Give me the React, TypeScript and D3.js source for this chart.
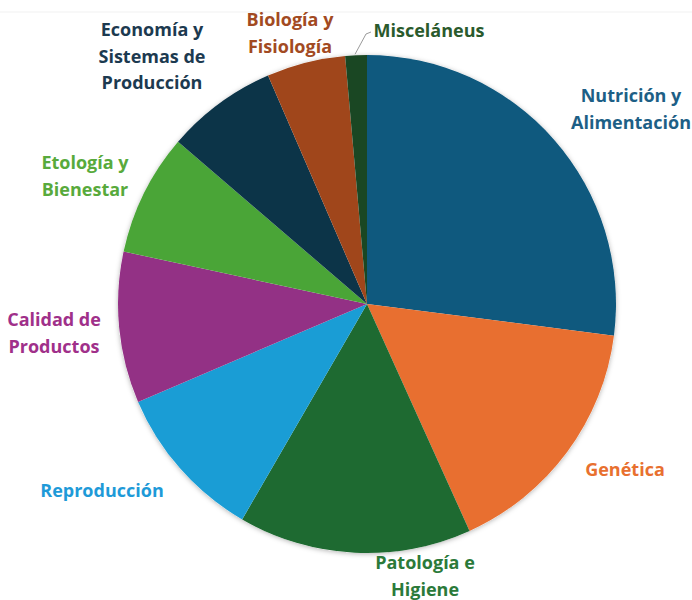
import { useEffect, useRef } from 'react';
import * as d3 from 'd3';

// categorías en orden horario desde las 12
const categories = [
  'Nutrición y Alimentación',
  'Genética',
  'Patología e Higiene',
  'Reproducción',
  'Calidad de Productos',
  'Etología y Bienestar',
  'Economía y Sistemas de Producción',
  'Biología y Fisiología',
  'Misceláneus',
];
const shares = [27.0, 16.2, 15.1, 10.2, 9.8, 7.9, 7.2, 5.1, 1.4];

const labelLines = [
  ['Nutrición y', 'Alimentación'],
  ['Genética'],
  ['Patología e', 'Higiene'],
  ['Reproducción'],
  ['Calidad de', 'Productos'],
  ['Etología y', 'Bienestar'],
  ['Economía y', 'Sistemas de', 'Producción'],
  ['Biología y', 'Fisiología'],
  ['Misceláneus'],
];

const sliceColors = ['#0f597e', '#e86f30', '#1e6a31', '#1a9dd5', '#933185', '#4aa537', '#0c3448', '#a0461b', '#1a4723'];
const textColors = ['#1d5f86', '#e8702f', '#2b7a3a', '#1e9ad8', '#a0308a', '#58aa3c', '#1c3a50', '#a24a22', '#2a5a2c'];

// posición del centro del primer renglón de cada etiqueta
const labelAnchors: [number, number][] = [
  [631, 96], [625, 470], [425, 563], [102, 491], [54, 320],
  [85, 163], [152, 30], [290, 20], [429, 31],
];

export default function App() {
  const svgRef = useRef<SVGSVGElement>(null);
  const width = 692;
  const height = 600;

  useEffect(() => {
    const svg = d3.select(svgRef.current);
    svg.selectAll('*').remove();

    const cx = 367, cy = 304, r = 249;

    const defs = svg.append('defs');
    const f = defs.append('filter').attr('id', 'shadow').attr('x', '-10%').attr('y', '-10%').attr('width', '120%').attr('height', '120%');
    f.append('feDropShadow').attr('dx', 0).attr('dy', 1).attr('stdDeviation', 2.5).attr('flood-color', '#000').attr('flood-opacity', 0.3);

    svg.append('line')
      .attr('x1', 0).attr('x2', width).attr('y1', 12).attr('y2', 12)
      .attr('stroke', '#f1f1f1').attr('stroke-width', 1);

    const pie = d3.pie<number>().sort(null).value(d => d);
    const arcs = pie(shares);
    const arc = d3.arc<d3.PieArcDatum<number>>().innerRadius(0).outerRadius(r);

    const g = svg.append('g').attr('transform', `translate(${cx},${cy})`);
    g.append('circle').attr('r', r).attr('fill', '#fff').attr('filter', 'url(#shadow)');
    g.selectAll('path')
      .data(arcs)
      .enter()
      .append('path')
      .attr('d', arc)
      .attr('fill', (d, i) => sliceColors[i]);

    // línea guía de Misceláneus
    const misc = arcs[8];
    const mid = (misc.startAngle + misc.endAngle) / 2;
    const p0: [number, number] = [cx + Math.sin(mid) * r, cy - Math.cos(mid) * r];
    svg.append('path')
      .attr('d', d3.line()([[p0[0] - 1, p0[1] - 1], [366, 34], [371, 32]]))
      .attr('fill', 'none')
      .attr('stroke', '#9a9a9a')
      .attr('stroke-width', 1);

    const lg = svg.append('g')
      .attr('font-family', '"Open Sans", sans-serif')
      .attr('font-weight', 700)
      .attr('font-size', 18);

    categories.forEach((c, i) => {
      const [x, y] = labelAnchors[i];
      const t = lg.append('text')
        .attr('text-anchor', 'middle')
        .attr('fill', textColors[i])
        .attr('aria-label', c);
      labelLines[i].forEach((line, k) => {
        t.append('tspan')
          .attr('x', x)
          .attr('y', y + k * 26.5)
          .attr('dy', '0.35em')
          .text(line);
      });
    });
  }, []);

  return (
    <svg
      ref={svgRef}
      width={width}
      height={height}
      style={{ position: 'absolute', top: 0, left: 0, background: '#fff' }}
    />
  );
}
